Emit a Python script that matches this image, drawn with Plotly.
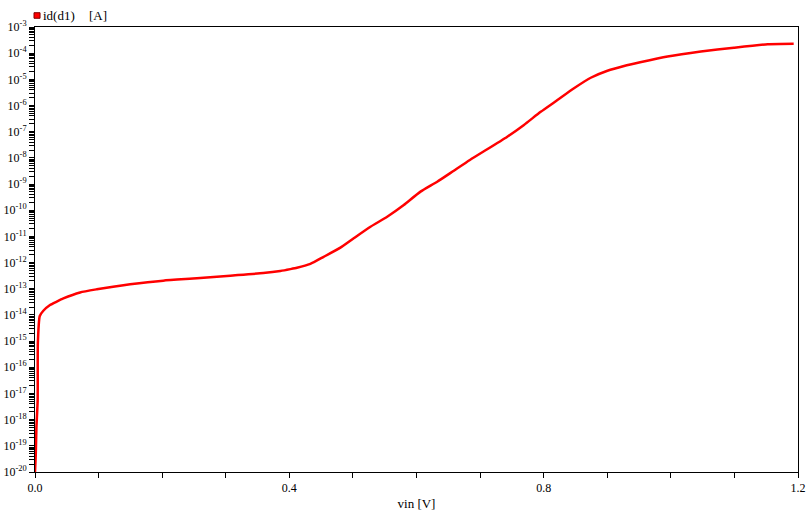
import plotly.graph_objects as go

# Sweep voltage vin [V]
vin = [0.0, 0.0012, 0.0022, 0.0042, 0.0045, 0.0075, 0.0131, 0.0236, 0.0342, 0.0446,
       0.0709, 0.0972, 0.1228, 0.1496, 0.2016, 0.2546, 0.3071, 0.3590, 0.3858, 0.4016,
       0.4120, 0.4331, 0.4540, 0.4803, 0.5013, 0.5276, 0.5539, 0.5800, 0.6063, 0.6326,
       0.6587, 0.6840, 0.7428, 0.7690, 0.7953, 0.8216, 0.8477, 0.8740, 0.9003, 0.9265,
       0.9517, 0.9948, 1.0472, 1.0992, 1.1523, 1.1932]

# Diode current id(d1) [A]
id_d1 = [1.0e-20, 4.47e-20, 4.68e-19, 5.62e-18, 8.51e-16, 9.12e-15, 1.45e-14, 2.40e-14, 3.24e-14, 4.27e-14,
         7.24e-14, 9.55e-14, 1.20e-13, 1.48e-13, 2.04e-13, 2.51e-13, 3.16e-13, 3.98e-13, 4.79e-13, 5.62e-13,
         6.31e-13, 8.91e-13, 1.66e-12, 3.72e-12, 8.51e-12, 2.34e-11, 5.62e-11, 1.58e-10, 5.13e-10, 1.23e-9,
         3.24e-9, 8.32e-9, 6.46e-8, 1.82e-7, 5.75e-7, 1.62e-6, 4.57e-6, 1.15e-5, 2.14e-5, 3.24e-5,
         4.47e-5, 7.41e-5, 1.15e-4, 1.62e-4, 2.19e-4, 2.29e-4]

# Tick definitions
x_tickvals = [0.0, 0.1, 0.2, 0.3, 0.4, 0.5, 0.6, 0.7, 0.8, 0.9, 1.0, 1.1, 1.2]
x_ticktext = ["0.0", "", "", "", "0.4", "", "", "", "0.8", "", "", "", "1.2"]
y_exponents = list(range(-20, -2))
y_digits = [1, 2, 3, 4, 5, 6, 7, 8, 9]
y_tickvals = []
y_ticktext = []
for e in y_exponents:
    for d in y_digits:
        if e == -3 and d > 1:
            break
        y_tickvals.append(d * 10.0 ** e)
        y_ticktext.append("10<sup>%d</sup>" % e if d == 1 else "")

FONT = "Liberation Serif"

fig = go.Figure()
fig.add_trace(go.Scatter(x=vin, y=id_d1, mode="lines",
                         line=dict(color="#ff0000", width=2.5, shape="spline", smoothing=0.5),
                         showlegend=False, hoverinfo="x+y"))

fig.update_layout(
    width=812, height=516,
    margin=dict(l=35, r=14, t=27, b=44),
    paper_bgcolor="white", plot_bgcolor="white",
    font=dict(family=FONT, size=12, color="black"),
    xaxis=dict(range=[0, 1.2], tickmode="array", tickvals=x_tickvals, ticktext=x_ticktext,
               ticks="outside", ticklen=5, tickcolor="black", tickwidth=1,
               showline=True, linecolor="black", linewidth=1, mirror=True,
               showgrid=False, zeroline=False, automargin=False,
               tickfont=dict(family=FONT, size=12),
               title=dict(text="vin [V]", font=dict(family=FONT, size=13), standoff=4)),
    yaxis=dict(type="log", range=[-20, -3], tickmode="array", tickvals=y_tickvals, ticktext=y_ticktext,
               ticks="outside", ticklen=5, tickcolor="black", tickwidth=1,
               showline=True, linecolor="black", linewidth=1, mirror=True,
               showgrid=False, zeroline=False, automargin=False,
               tickfont=dict(family=FONT, size=12)),
)

# Legend-like header
fig.add_shape(type="rect", xref="paper", yref="paper",
              x0=-0.0013, x1=0.0066, y0=1.0196, y1=1.0321,
              fillcolor="#ff0000", line=dict(color="#800000", width=1))
fig.add_annotation(text="id(d1)", xref="paper", yref="paper", x=0.0079, y=1.026,
                   xanchor="left", yanchor="middle", showarrow=False,
                   font=dict(family=FONT, size=13, color="black"))
fig.add_annotation(text="[A]", xref="paper", yref="paper", x=(87 - 35) / 763, y=1.026,
                   xanchor="left", yanchor="middle", showarrow=False,
                   font=dict(family=FONT, size=13, color="black"))

fig.write_html("out.html", config={"displayModeBar": False},
               post_script="document.body.style.margin='0px';")
